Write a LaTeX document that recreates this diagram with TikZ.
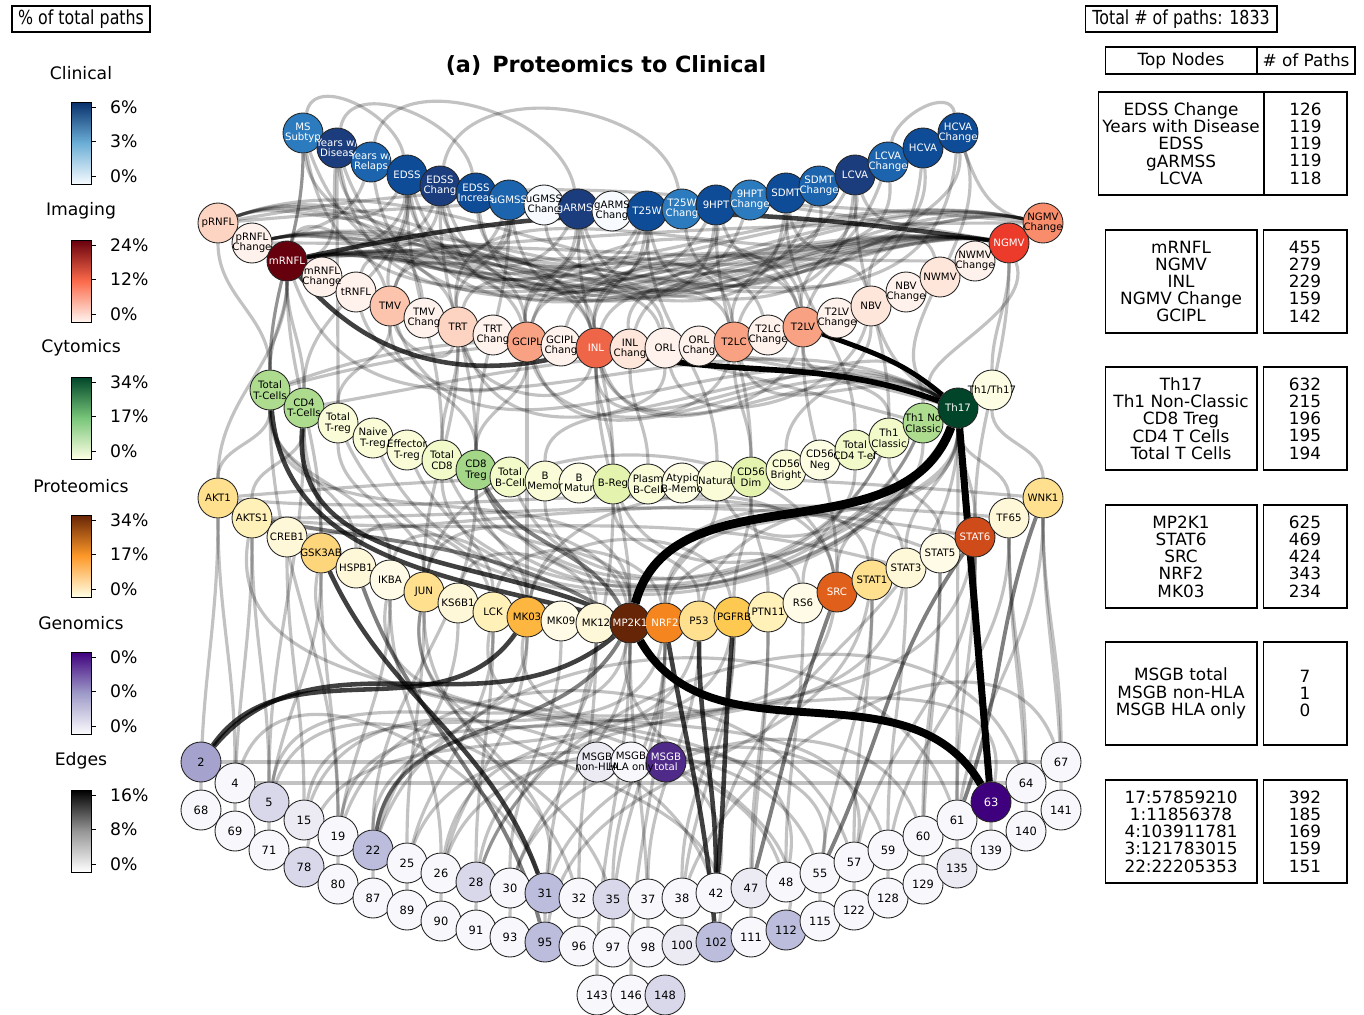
\documentclass[tikz,border=0pt]{standalone}
\usepackage{fontspec}
\setmainfont{DejaVu Sans}

% node fills
\definecolor{bA}{HTML}{1B3D7D}
\definecolor{bB}{HTML}{0F4C97}
\definecolor{bC}{HTML}{1C64AD}
\definecolor{bD}{HTML}{2C7BBF}
\definecolor{bW}{HTML}{F7FBFF}
\definecolor{rA}{HTML}{FDD4C2}
\definecolor{rB}{HTML}{FCC4AD}
\definecolor{rC}{HTML}{F8A283}
\definecolor{rD}{HTML}{EF6548}
\definecolor{rE}{HTML}{EC3A2B}
\definecolor{rF}{HTML}{F98D6B}
\definecolor{rG}{HTML}{FEE6DA}
\definecolor{rH}{HTML}{FFF2EC}
\definecolor{gA}{HTML}{ADDC8E}
\definecolor{gB}{HTML}{A3D687}
\definecolor{gC}{HTML}{E4F3AE}
\definecolor{gD}{HTML}{F3FAC9}
\definecolor{gE}{HTML}{F9FCD7}
\definecolor{gF}{HTML}{FCFDE3}
\definecolor{yA}{HTML}{FEE08E}
\definecolor{yB}{HTML}{FDD67C}
\definecolor{yC}{HTML}{FDC950}
\definecolor{yD}{HTML}{FDB741}
\definecolor{yE}{HTML}{FFF1B8}
\definecolor{yF}{HTML}{FFF8D8}
\definecolor{yG}{HTML}{FFFBE6}
\definecolor{oA}{HTML}{F5861F}
\definecolor{oB}{HTML}{E0601B}
\definecolor{oC}{HTML}{CF4B1A}
\definecolor{pA}{HTML}{A5A3CD}
\definecolor{pB}{HTML}{BCBDDC}
\definecolor{pC}{HTML}{D9D8EA}
\definecolor{pD}{HTML}{ECEBF4}
\definecolor{pW}{HTML}{F8F7FB}
\definecolor{pT}{HTML}{4F2A89}
% colour bars
\definecolor{blT}{HTML}{08306B}\definecolor{blM}{HTML}{6BAED6}\definecolor{blB}{HTML}{F7FBFF}
\definecolor{rdT}{HTML}{67000D}\definecolor{rdM}{HTML}{FB6A4A}\definecolor{rdB}{HTML}{FFF5F0}
\definecolor{gnT}{HTML}{004529}\definecolor{gnM}{HTML}{78C679}\definecolor{gnB}{HTML}{FFFFE5}
\definecolor{orT}{HTML}{662506}\definecolor{orM}{HTML}{FE9929}\definecolor{orB}{HTML}{FFFFE5}
\definecolor{puT}{HTML}{3F007D}\definecolor{puM}{HTML}{9E9AC8}\definecolor{puB}{HTML}{FCFBFD}
\definecolor{gyT}{HTML}{000000}\definecolor{gyM}{HTML}{969696}\definecolor{gyB}{HTML}{FFFFFF}

\pgfdeclarelayer{background}
\pgfdeclarelayer{fg}
\pgfsetlayers{background,main,fg}

% circle, then its text on the top layer
\newcommand{\netnode}[5][black]{%
  \node[bub,fill=#4] (#2) at (#3) {};
  \begin{pgfonlayer}{fg}\node[btx,text=#1] (#2-t) at (#2) {#5};\end{pgfonlayer}}

\begin{document}
\begin{tikzpicture}[x=0.02cm,y=0.02cm,
  bub/.style={circle,draw=black!85,line width=0.5pt,minimum size=0.8cm,inner sep=0pt},
  btx/.style={font=\fontsize{5.8}{6.0}\selectfont,align=center,inner sep=0pt},
  ge/.style={draw=black,line width=1.8pt,opacity=0.24},
  me/.style={draw=black,line width=2.2pt,opacity=0.5},
  de/.style={draw=black,line width=2.6pt,opacity=0.75},
  hv/.style={draw=black,line width=#1},
  tbox/.style={draw=black,line width=0.6pt,inner sep=0pt,align=center,font=\fontsize{9.6}{9.8}\selectfont},
  lg/.style={font=\fontsize{9.8}{10}\selectfont}]

\useasboundingbox (0,-1014) rectangle (1364,0);

% ---- clinical
\netnode[white]{ms}{303,-133}{bD}{MS\\Subtyp}
\netnode[white]{ywd}{337,-148}{bA}{Years w/\\Diseas}
\netnode[white]{ywr}{371,-162}{bC}{Years w/\\Relaps}
\netnode[white]{edss}{407,-175}{bB}{EDSS}
\netnode[white]{edssc}{440,-186}{bA}{EDSS\\Chang}
\netnode[white]{edssi}{476,-193}{bB}{EDSS\\Increas}
\netnode[white]{ugmss}{509,-200}{bC}{uGMSS}
\netnode{ugmssc}{544,-205}{bW}{uGMSS\\Chang}
\netnode[white]{garmss}{578,-209}{bA}{gARMSS}
\netnode{garmssc}{612,-211}{bW}{gARMS\\Chang}
\netnode[white]{tw}{647,-211}{bB}{T25W}
\netnode[white]{twc}{682,-209}{bD}{T25W\\Chang}
\netnode[white]{hpt}{716,-205}{bB}{9HPT}
\netnode[white]{hptc}{750,-200}{bD}{9HPT\\Change}
\netnode[white]{sdmt}{786,-193}{bB}{SDMT}
\netnode[white]{sdmtc}{819,-186}{bC}{SDMT\\Change}
\netnode[white]{lcva}{855,-175}{bA}{LCVA}
\netnode[white]{lcvac}{888,-162}{bC}{LCVA\\Change}
\netnode[white]{hcva}{923,-148}{bB}{HCVA}
\netnode[white]{hcvac}{958,-133}{bB}{HCVA\\Change}

% ---- imaging
\netnode{prnfl}{218,-223}{rA}{pRNFL}
\netnode{prnflc}{252,-243}{rH}{pRNFL\\Change}
\netnode[white]{mrnfl}{287,-261}{rdT}{mRNFL}
\netnode{mrnflc}{322,-277}{rH}{mRNFL\\Change}
\netnode{trnfl}{356,-292}{rH}{tRNFL}
\netnode{tmv}{390,-306}{rB}{TMV}
\netnode{tmvc}{424,-318}{rH}{TMV\\Chang}
\netnode{trt}{458,-327}{rA}{TRT}
\netnode{trtc}{493,-335}{rH}{TRT\\Chang}
\netnode{gcipl}{527,-342}{rC}{GCIPL}
\netnode{gciplc}{561,-346}{rH}{GCIPL\\Chang}
\netnode[white]{inl}{596,-348}{rD}{INL}
\netnode{inlc}{630,-349}{rG}{INL\\Chang}
\netnode{orl}{665,-348}{rH}{ORL}
\netnode{orlc}{699,-346}{rH}{ORL\\Chang}
\netnode{tlc}{734,-342}{rC}{T2LC}
\netnode{tlcc}{768,-335}{rH}{T2LC\\Change}
\netnode{tlv}{803,-327}{rC}{T2LV}
\netnode{tlvc}{837,-318}{rH}{T2LV\\Change}
\netnode{nbv}{871,-306}{rG}{NBV}
\netnode{nbvc}{906,-292}{rH}{NBV\\Change}
\netnode{nwmv}{940,-277}{rG}{NWMV}
\netnode{nwmvc}{975,-261}{rH}{NWMV\\Change}
\netnode[white]{ngmv}{1009,-243}{rE}{NGMV}
\netnode{ngmvc}{1043,-223}{rF}{NGMV\\Change}

% ---- cytomics
\netnode{tt}{270,-390}{gA}{Total\\T-Cells}
\netnode{cdf}{304,-408}{gA}{CD4\\T-Cells}
\netnode{ttr}{338,-423}{gE}{Total\\T-reg}
\netnode{ntr}{373,-438}{gE}{Naive\\T-reg}
\netnode{etr}{407,-450}{gE}{Effector\\T-reg}
\netnode{tce}{442,-460}{gD}{Total\\CD8}
\netnode{cdt}{476,-470}{gB}{CD8\\Treg}
\netnode{tbc}{510,-477}{gD}{Total\\B-Cell}
\netnode{bme}{545,-481}{gE}{B\\Memor}
\netnode{bma}{579,-483}{gF}{B\\Matur}
\netnode{brg}{613,-484}{gC}{B-Reg}
\netnode{pbc}{648,-484}{gE}{Plasm\\B-Cell}
\netnode{abm}{682,-483}{gF}{Atypic\\B-Memo}
\netnode{nat}{717,-481}{gE}{Natural}
\netnode{cdd}{751,-477}{gC}{CD56\\Dim}
\netnode{cdb}{786,-470}{gE}{CD56\\Bright}
\netnode{cdn}{820,-460}{gF}{CD56\\Neg}
\netnode{tcd}{855,-450}{gD}{Total\\CD4 T-ef}
\netnode{toc}{889,-438}{gD}{Th1\\Classic}
\netnode{tnc}{923,-423}{gA}{Th1 No\\Classic}
\netnode[white]{th17}{958,-408}{gnT}{Th17}
\netnode{thth}{992,-390}{gF}{Th1/Th17}

% ---- proteomics
\netnode{akt1}{218,-498}{yA}{AKT1}
\netnode{akts1}{252,-518}{yE}{AKTS1}
\netnode{creb1}{287,-537}{yF}{CREB1}
\netnode{gsk3ab}{321,-553}{yB}{GSK3AB}
\netnode{hspb1}{356,-568}{yF}{HSPB1}
\netnode{ikba}{390,-580}{yG}{IKBA}
\netnode{jun}{424,-592}{yA}{JUN}
\netnode{ks6b1}{458,-603}{yF}{KS6B1}
\netnode{lck}{493,-612}{yE}{LCK}
\netnode{mk03}{527,-617}{yD}{MK03}
\netnode{mk09}{561,-621}{yG}{MK09}
\netnode{mk12}{596,-623}{yF}{MK12}
\netnode[white]{mp2k1}{630,-623}{orT}{MP2K1}
\netnode[white]{nrf2}{665,-623}{oA}{NRF2}
\netnode{p53}{699,-621}{yA}{P53}
\netnode{pgfrb}{734,-617}{yC}{PGFRB}
\netnode{ptn11}{768,-612}{yE}{PTN11}
\netnode{rs6}{803,-603}{yG}{RS6}
\netnode[white]{src}{837,-592}{oB}{SRC}
\netnode{stat1}{872,-580}{yA}{STAT1}
\netnode{stat3}{906,-568}{yF}{STAT3}
\netnode{stat5}{940,-553}{yG}{STAT5}
\netnode[white]{stat6}{975,-537}{oC}{STAT6}
\netnode{tf65}{1009,-518}{yF}{TF65}
\netnode{wnk1}{1043,-498}{yA}{WNK1}

% ---- genomics
\foreach \n/\x/\y/\c in {2/201/762/pA,4/235/783/pW,5/269/802/pC,15/304/820/pD,19/338/836/pW,
  22/373/850/pB,25/407/863/pW,26/441/873/pW,28/476/882/pC,30/510/888/pW,31/545/893/pB,
  32/579/898/pW,35/613/899/pC,37/648/899/pW,38/682/898/pW,42/716/893/pW,47/751/888/pD,
  48/786/882/pW,55/820/873/pW,57/854/862/pW,59/888/850/pW,60/923/836/pW,61/957/820/pW,
  64/1026/783/pW,67/1061/762/pW,68/201/810/pW,69/235/831/pW,71/269/850/pW,78/304/867/pC,
  80/338/884/pW,87/373/898/pW,89/407/910/pW,90/441/921/pW,91/476/930/pW,93/510/937/pW,
  95/545/942/pB,96/579/946/pW,97/613/947/pW,98/648/947/pW,100/682/945/pD,102/716/942/pB,
  111/751/937/pW,112/786/930/pB,115/820/921/pW,122/854/910/pW,128/888/898/pW,
  129/923/884/pW,135/957/868/pD,139/991/850/pW,140/1026/831/pW,141/1061/810/pW,
  143/597/995/pW,146/631/995/pW,148/665/995/pC}
  {\netnode{g\n}{\x,-\y}{\c}{\fontsize{6.5}{6.5}\selectfont\n}}
\netnode[white]{g63}{991,-802}{puT}{\fontsize{6.5}{6.5}\selectfont 63}
\netnode{msgbn}{597,-762}{pD}{MSGB\\non-HLA}
\netnode{msgbh}{631,-762}{pW}{MSGB\\HLA only}
\netnode[white]{msgbt}{666,-762}{pT}{MSGB\\total}

% ---- title and legend
\node[font=\bfseries\fontsize{12.7}{13}\selectfont] (title) at (606,-65) {(a)\enspace Proteomics to Clinical};
\node[tbox,minimum width=2.76cm,minimum height=0.52cm] (pct) at (81,-19)
  {\scalebox{0.82}[1]{\fontsize{11}{11}\selectfont \% of total paths}};
\foreach \lab/\yc/\ct/\cm/\cb/\ta/\tb/\tc in {Clinical/73/blT/blM/blB/6/3/0,
  Imaging/211/rdT/rdM/rdB/24/12/0, Cytomics/348/gnT/gnM/gnB/34/17/0,
  Proteomics/486/orT/orM/orB/34/17/0, Genomics/623/puT/puM/puB/0/0/0,
  Edges/761/gyT/gyM/gyB/16/8/0}
{
  \node[lg] (lab-\lab) at (81,-\yc) {\lab};
  \shade[top color=\ct,bottom color=\cb,middle color=\cm] (71,{-\yc-29}) rectangle (91,{-\yc-111});
  \draw[line width=0.5pt] (71,{-\yc-29}) rectangle (91,{-\yc-111});
  \foreach \k/\t in {0/\ta,1/\tb,2/\tc} {
    \draw[line width=0.5pt] (91,{-\yc-34-34.5*\k}) -- ++(5,0);
    \node[lg,anchor=west] (tk-\lab-\k) at (104,{-\yc-34-34.5*\k}) {\t\%};
  }
}

% ---- tables
\node[tbox,minimum width=3.84cm,minimum height=0.52cm] (total) at (1181,-19)
  {\scalebox{0.82}[1]{\fontsize{11}{11}\selectfont Total \# of paths: 1833}};
\node[tbox,minimum width=3.04cm,minimum height=0.54cm] (hdA) at (1181,-60.5) {Top Nodes};
\node[tbox,minimum width=1.96cm,minimum height=0.54cm] (hdB) at (1306,-60.5) {\# of Paths};
\node[tbox,minimum width=3.32cm,minimum height=2.06cm] (clA) at (1181,-143.5)
  {EDSS Change\\Years with Disease\\EDSS\\gARMSS\\LCVA};
\node[tbox,minimum width=1.66cm,minimum height=2.06cm] (clB) at (1305.5,-143.5) {126\\119\\119\\119\\118};
\node[tbox,minimum width=3.04cm,minimum height=2.06cm] (imA) at (1181,-281.5)
  {mRNFL\\NGMV\\INL\\NGMV Change\\GCIPL};
\node[tbox,minimum width=1.68cm,minimum height=2.06cm] (imB) at (1305,-281.5) {455\\279\\229\\159\\142};
\node[tbox,minimum width=3.04cm,minimum height=2.06cm] (cyA) at (1181,-418.5)
  {Th17\\Th1 Non-Classic\\CD8 Treg\\CD4 T Cells\\Total T Cells};
\node[tbox,minimum width=1.68cm,minimum height=2.06cm] (cyB) at (1305,-418.5) {632\\215\\196\\195\\194};
\node[tbox,minimum width=3.04cm,minimum height=2.06cm] (prA) at (1181,-556.5)
  {MP2K1\\STAT6\\SRC\\NRF2\\MK03};
\node[tbox,minimum width=1.68cm,minimum height=2.06cm] (prB) at (1305,-556.5) {625\\469\\424\\343\\234};
\node[tbox,minimum width=3.04cm,minimum height=2.06cm] (geA) at (1181,-693.5)
  {MSGB total\\MSGB non-HLA\\MSGB HLA only};
\node[tbox,minimum width=1.68cm,minimum height=2.06cm] (geB) at (1305,-693.5) {7\\1\\0};
\node[tbox,minimum width=3.04cm,minimum height=2.06cm] (snA) at (1181,-831.5)
  {17:57859210\\1:11856378\\4:103911781\\3:121783015\\22:22205353};
\node[tbox,minimum width=1.68cm,minimum height=2.06cm] (snB) at (1305,-831.5) {392\\185\\169\\159\\151};

% ---- paths
\begin{pgfonlayer}{background}
\fill[white] (0,-1014) rectangle (1364,0);
% imaging to clinical
\foreach \t in {ywd,edss,edssc,ugmss,garmss,tw,hpt,sdmt,lcva,hcva,hcvac}
  \draw[ge] (mrnfl) to[out=10,in=-95] (\t);
\foreach \t in {ms,ywd,ywr,edss,edssc,edssi,ugmss,garmss,tw,twc,sdmt}
  \draw[ge] (ngmv) to[out=172,in=-80] (\t);
\foreach \t in {ms,ywd,edss,edssc,garmss,hpt,lcva,hcvac}
  \draw[ge] (ngmvc) to[out=168,in=-70] (\t);
\foreach \t in {ywr,edssc,ugmss,tw,hptc,sdmtc,lcvac}
  \draw[ge] (prnflc) to[out=12,in=-110] (\t);
\foreach \t in {edss,garmss,tw,hpt,lcva}
  \draw[ge] (prnfl) to[out=20,in=-120] (\t);
\draw[ge] (prnfl) to[out=5,in=175] (ngmvc);
\draw[ge] (prnflc) to[out=0,in=180] (nwmvc);
\draw[ge] (mrnfl) to[out=5,in=180] (ngmvc);
\draw[ge] (prnfl) to[out=10,in=170] (ngmv);
\foreach \a/\b in {tmv/edss,trt/ugmss,gcipl/garmss,inl/tw,inl/edssc,inlc/hpt,tlc/sdmt,tlv/lcva,
  gcipl/ywd,trt/hcva,tlc/edss,nbv/hcvac,orl/ugmssc,tlv/edssi,tmvc/ms,inl/lcvac,gcipl/sdmtc}
  \draw[ge] (\a) to[out=95,in=-85] (\b);
\foreach \a/\b in {ywd/edssi,ms/edss,edssc/twc,lcvac/hcvac,ywr/garmss}
  \draw[ge] (\a) to[out=80,in=100] (\b);
% imaging loops
\foreach \a/\b in {tmv/gcipl,trt/inl,gcipl/orl,inl/tlc,inlc/tlv,tlc/nbv,mrnfl/tmv,trnfl/trt,
  gciplc/tlcc,tlv/nwmv,tmv/inl,gcipl/tlv}
  \draw[ge] (\a) to[out=75,in=105] (\b);
\foreach \a/\b in {trt/inl,gcipl/tlc,tmv/trt,inl/tlv,trnfl/gcipl,orl/nbv}
  \draw[ge] (\a) to[out=-75,in=-105] (\b);
% clinical and imaging down to cytomics and proteomics
\foreach \a/\b in {ms/tt,ywd/ttr,edssc/cdt,garmss/brg,tw/nat,hpt/cdd,lcva/toc,edss/tce,sdmt/tcd,
  mrnfl/akt1,inl/mp2k1,gcipl/mk03,ngmv/stat6,tlv/src,trt/jun,mrnfl/gsk3ab}
  \draw[ge] (\a) to[out=-90,in=90] (\b);
% cytomics to imaging
\foreach \a/\b in {tnc/inl,cdt/gcipl,cdt/tmv,tt/mrnfl,cdf/mrnfl,tce/trt,brg/inl,cdd/tlc,toc/tlv,
  thth/ngmv,tt/prnfl,bme/orl,cdb/nbv,ttr/tmv,pbc/inlc,tt/ms,cdf/edss,cdt/ugmss}
  \draw[ge] (\a) to[out=90,in=-90] (\b);
\foreach \t in {inl,gcipl,tlc,trt,tmv,ngmv,nbv,mrnfl,hcvac}
  \draw[ge] (th17) to[out=150,in=-70] (\t);
\draw[ge] (th17) to[out=165,in=15] (tt);
\draw[ge] (th17) to[out=160,in=10] (cdf);
\draw[ge] (tnc) to[out=165,in=20] (tt);
\foreach \a/\b in {th17/cdt,th17/tce,th17/ttr,tnc/tbc,toc/cdt,th17/brg,th17/nat,tnc/ntr,toc/etr}
  \draw[ge] (\a) to[out=-115,in=-65] (\b);
% proteomics to cytomics
\foreach \a/\b in {akt1/tt,akts1/cdf,mp2k1/cdt,stat6/th17,src/th17,nrf2/th17,mk03/cdt,jun/ttr,
  lck/tce,pgfrb/cdd,ptn11/cdd,stat1/tnc,stat3/th17,wnk1/thth,tf65/th17,p53/brg,rs6/tcd,
  mk12/bme,ikba/tt,hspb1/tt,gsk3ab/cdf,mp2k1/tt,stat5/toc,nrf2/nat}
  \draw[ge] (\a) to[out=90,in=-90] (\b);
\draw[ge] (akt1) to[out=5,in=175] (wnk1);
\draw[ge] (akts1) to[out=0,in=170] (stat6);
\draw[ge] (akt1) to[out=-5,in=160] (stat5);
\draw[ge] (creb1) to[out=5,in=175] (tf65);
\draw[ge] (akts1) to[out=-5,in=165] (stat3);
\foreach \a/\b in {jun/mp2k1,lck/nrf2,mk03/pgfrb,ks6b1/mk12,ikba/mk03,jun/src,mp2k1/stat1,
  nrf2/rs6,p53/stat3,hspb1/lck,mk03/src}
  \draw[ge] (\a) to[out=80,in=100] (\b);
% genomics to proteomics
\foreach \a/\b in {g4/akt1,g5/akts1,g15/creb1,g19/gsk3ab,g22/mk03,g25/jun,g26/ikba,g28/lck,
  g30/mk09,g32/mk12,g35/nrf2,g37/p53,g38/pgfrb,g47/ptn11,g48/rs6,g57/stat1,g59/stat3,
  g60/stat5,g61/stat6,g64/tf65,g67/wnk1,g96/jun,g98/mp2k1,g100/pgfrb,g111/ptn11,g115/stat1,
  g122/stat6,g128/tf65,g135/wnk1,g139/stat6,g68/akt1,g69/akts1,g71/gsk3ab,g80/ikba,
  g87/ks6b1,g89/lck,g90/mk03,g91/mk12,g93/mp2k1,g97/nrf2,g141/wnk1,g140/tf65,g129/stat5,
  g143/mp2k1,g146/nrf2}
  \draw[ge] (\a) to[out=90,in=-90] (\b);
\foreach \a/\b in {g5/mp2k1,g15/nrf2,g22/src,g28/stat6,g31/jun,g42/akts1,g55/mk03,g63/lck,
  g78/p53,g95/stat1,g102/jun,g112/mp2k1,g19/pgfrb,g26/stat3,g48/gsk3ab,g57/ikba}
  \draw[ge] (\a) to[out=80,in=-100] (\b);
\foreach \a/\b in {g5/cdf,g22/cdt,g42/th17,g61/th17,g19/tt,g95/brg}
  \draw[ge] (\a) to[out=90,in=-90] (\b);
% genomics loops
\foreach \a/\b in {g15/g42,g22/g61,g5/g35,g19/g57,g28/g64,g4/g31,g26/g55,g31/g60,g25/g48,
  g38/g67,g30/g59}
  \draw[ge] (\a) to[out=70,in=110] (\b);
\draw[ge] (g2) -- (g67);
\draw[ge] (g4) -- (g64);
% darker paths
\draw[de] (mrnfl) to[out=-50,in=195] (inl);
\draw[de] (mrnfl) to[out=12,in=172] (ngmv);
\draw[de] (tt) to[out=-85,in=165] (mp2k1);
\draw[de] (cdf) to[out=-95,in=155] (mp2k1);
\draw[de] (mk03) to[out=-125,in=55] (g2);
\draw[de] (mp2k1) to[out=-140,in=50] (g2);
\draw[de] (gsk3ab) to[out=-65,in=110] (g31);
\draw[de] (p53) to[out=-90,in=90] (g42);
\draw[de] (pgfrb) to[out=-95,in=85] (g42);
\draw[de] (nrf2) to[out=-80,in=95] (g102);
\draw[me] (hspb1) to[out=-70,in=105] (g95);
\draw[me] (stat6) to[out=-125,in=65] (g55);
\draw[me] (cdt) to[out=-60,in=120] (mp2k1);
\draw[me] (akts1) to[out=-10,in=150] (mp2k1);
\draw[me] (src) to[out=-110,in=75] (g47);
\draw[me] (wnk1) to[out=-110,in=70] (g61);
\draw[me] (g22) to[out=80,in=-120] (mp2k1);
% heaviest paths
\draw[hv=3.2pt] (inl) to[out=-12,in=160] (th17);
\draw[hv=2.8pt] (tlv) to[out=-20,in=140] (th17);
\draw[hv=5pt] (th17) to[out=-110,in=75] (mp2k1);
\draw[hv=4.5pt] (mp2k1) to[out=-60,in=120] (g63);
\draw[hv=4pt] (th17) -- (g63);
\end{pgfonlayer}
\end{tikzpicture}
\end{document}
